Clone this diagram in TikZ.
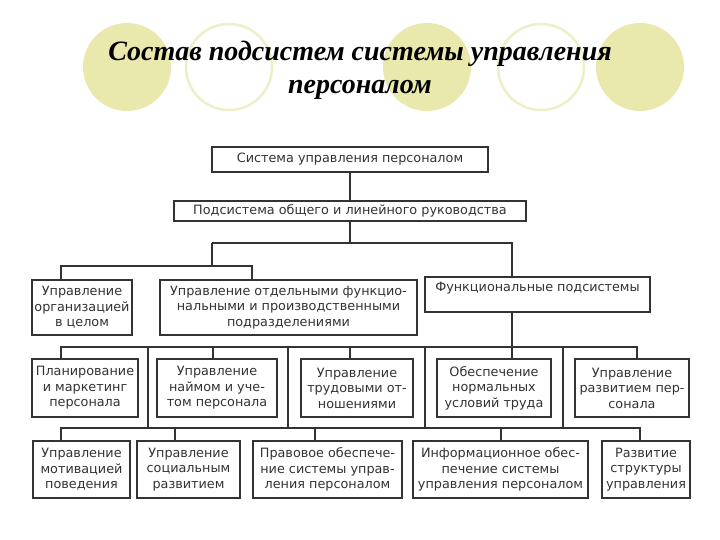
\documentclass[tikz,border=0pt]{standalone}
\usepackage{fontspec}
\setmainfont{Liberation Serif}
\newfontfamily\boxfont{DejaVu Sans}
\usetikzlibrary{positioning}
\definecolor{slDisc}{HTML}{E9E9AE}
\definecolor{slRing}{HTML}{EEEEC8}
\definecolor{slInk}{HTML}{333333}
\tikzset{
  unit/.style={
    draw=slInk, line width=1.7pt, fill=white, align=center, inner sep=0pt,
    font=\boxfont\fontsize{12.8}{15.5}\selectfont, text=slInk
  },
  link/.style={line width=1.7pt, slInk},
  disc/.style={fill=slDisc},
  ring/.style={draw=slRing, line width=2.5pt},
  heading/.style={font=\fontsize{28}{33}\selectfont\bfseries\itshape, align=center}
}

\begin{document}
\begin{tikzpicture}[x=1pt, y=-1pt]
  \useasboundingbox (0,0) rectangle (720,540);
  % decoration behind the title
  \foreach \cx in {127,427,640}{
    \fill[disc] (\cx,67) circle (44);
  }
  \foreach \cx in {229,541}{
    \draw[ring] (\cx,67) circle (43);
  }
  \node[heading] (title) at (360,70) {Состав подсистем системы управления\\персоналом};

  % upper levels
  \node[unit, minimum width=276, minimum height=25] (top) at (350,159.5) {Система управления персоналом};
  \node[unit, minimum width=352, minimum height=20] (sub) at (350,211) {Подсистема общего и линейного руководства};
  \node[unit, minimum width=100, minimum height=55] (org) at (82,307.5) {Управление\\организацией\\в целом};
  \node[unit, minimum width=257, minimum height=55] (dept) at (288.5,307.5) {Управление отдельными функцио-\\нальными и производственными\\подразделениями};
  \node[unit, minimum width=225, minimum height=35] (func) at (537.5,294.5) {Функциональные подсистемы\\~};

  % functional subsystems, first row
  \node[unit, minimum width=106, minimum height=58] (plan) at (85,388) {Планирование\\и маркетинг\\персонала};
  \node[unit, minimum width=120, minimum height=58] (hire) at (217,388) {Управление\\наймом и уче-\\том персонала};
  \node[unit, minimum width=112, minimum height=58] (labor) at (357,388) {Управление\\трудовыми от-\\ношениями};
  \node[unit, minimum width=114, minimum height=58] (cond) at (494,388) {Обеспечение\\нормальных\\условий труда};
  \node[unit, minimum width=114, minimum height=58] (dev) at (632,388) {Управление\\развитием пер-\\сонала};

  % functional subsystems, second row
  \node[unit, minimum width=97, minimum height=57] (motiv) at (81.5,469.5) {Управление\\мотивацией\\поведения};
  \node[unit, minimum width=103, minimum height=57] (soc) at (188.5,469.5) {Управление\\социальным\\развитием};
  \node[unit, minimum width=149, minimum height=57] (legal) at (327.5,469.5) {Правовое обеспече-\\ние системы управ-\\ления персоналом};
  \node[unit, minimum width=175, minimum height=57] (info) at (500.5,469.5) {Информационное обес-\\печение системы\\управления персоналом};
  \node[unit, minimum width=88, minimum height=57] (struct) at (646,469.5) {Развитие\\структуры\\управления};

  % upper connectors
  \coordinate (t1) at (212,243);
  \coordinate (t2) at (512,243);
  \coordinate (t3) at (212,266);
  \coordinate (t4) at (61,266);
  \coordinate (t5) at (252,266);
  \draw[link] (top) -- (sub);
  \draw[link] (sub.south) -- (sub.south |- t1);
  \draw[link] (t1) -- (t2) -- (func.north -| t2);
  \draw[link] (t1) -- (t3);
  \draw[link] (org.north -| t4) -- (t4) -- (t5) -- (dept.north -| t5);

  % first bus
  \coordinate (ma) at (61,347);
  \coordinate (mb) at (637,347);
  \draw[link] (plan.north -| ma) -- (ma) -- (mb) -- (dev.north -| mb);
  \draw[link] (func.south -| t2) -- (cond.north -| t2);
  \foreach \n/\x in {hire/213, labor/350}{
    \coordinate (d-\n) at (\x,347);
    \draw[link] (d-\n) -- (\n.north -| d-\n);
  }

  % second bus
  \coordinate (la) at (61,428);
  \coordinate (lb) at (640,428);
  \draw[link] (motiv.north -| la) -- (la) -- (lb) -- (struct.north -| lb);
  \foreach \n/\x in {soc/175, legal/315, info/501}{
    \coordinate (d-\n) at (\x,428);
    \draw[link] (d-\n) -- (\n.north -| d-\n);
  }
  \foreach \x [count=\i] in {148,288,425,563}{
    \coordinate (up\i) at (\x,347);
    \coordinate (lo\i) at (\x,428);
    \draw[link] (up\i) -- (lo\i);
  }
\end{tikzpicture}
\end{document}
